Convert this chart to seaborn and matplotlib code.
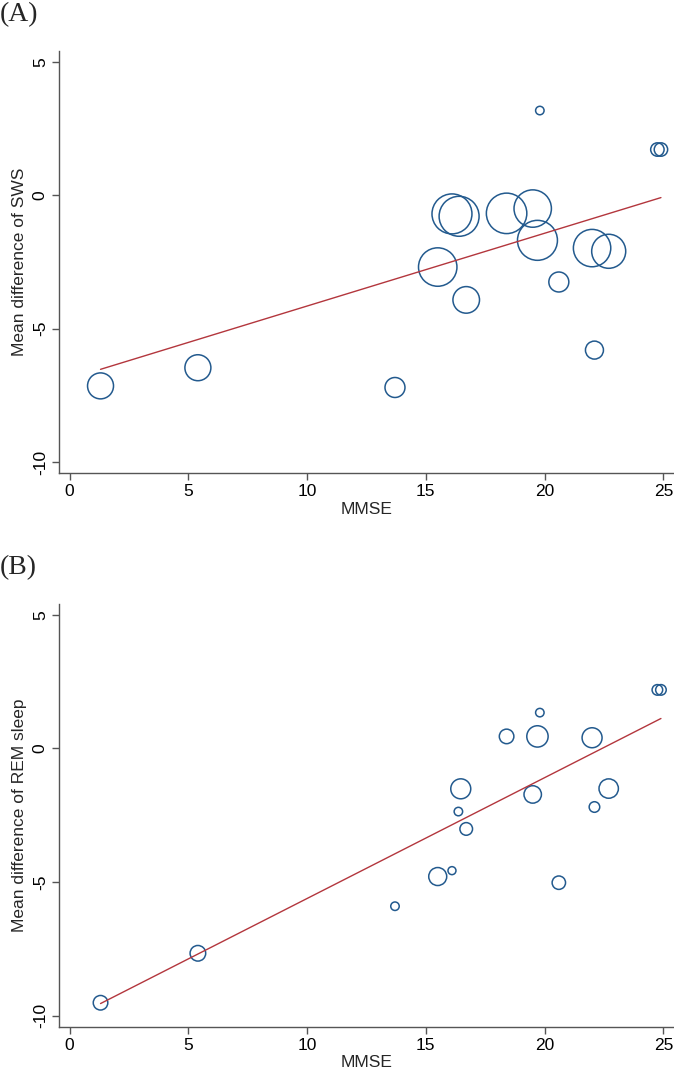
import numpy as np
import pandas as pd
import matplotlib
matplotlib.use("Agg")
import matplotlib.pyplot as plt
import seaborn as sns

# Panel A: SWS vs MMSE (bubble size ~ study weight)
mmse_a = [1.3, 5.4, 13.7, 15.5, 16.1, 16.4, 16.7, 18.4, 19.5, 19.7, 19.8,
          20.6, 22.0, 22.7, 22.1, 24.75, 24.9]
sws_diff = [-7.14, -6.46, -7.20, -2.69, -0.70, -0.79, -3.92, -0.68, -0.50,
            -1.69, 3.17, -3.25, -1.98, -2.10, -5.80, 1.71, 1.71]
weight_a = [16.9, 16.9, 10.0, 37.0, 40.0, 40.0, 17.7, 41.0, 35.0, 40.0, 1.8,
            10.0, 35.0, 29.0, 8.1, 4.5, 4.5]
fit_a_x = [1.3, 24.9]
fit_a_y = [-6.52, -0.09]

# Panel B: REM sleep vs MMSE
mmse_b = [1.3, 5.4, 13.7, 15.5, 16.1, 16.37, 16.47, 16.7, 18.4, 19.5, 19.7,
          19.8, 20.6, 22.0, 22.1, 22.7, 24.75, 24.9]
rem_diff = [-9.51, -7.66, -5.90, -4.79, -4.57, -2.36, -1.51, -3.01, 0.45,
            -1.72, 0.45, 1.34, -5.02, 0.40, -2.19, -1.50, 2.19, 2.19]
weight_b = [5.3, 6.1, 1.8, 8.1, 1.6, 1.8, 10.0, 4.0, 5.3, 7.6, 11.4, 1.8,
            4.5, 10.0, 2.8, 9.4, 2.8, 2.8]
fit_b_x = [1.3, 24.9]
fit_b_y = [-9.54, 1.12]

x_ticks = [0, 5, 10, 15, 20, 25]
y_ticks = [-10, -5, 0, 5]

NAVY = "#235a8e"
MAROON = "#b3363d"
AXIS_GREY = "#555555"

sns.set_theme(style="ticks")
plt.rcParams["font.family"] = ["Liberation Sans", "DejaVu Sans"]

fig = plt.figure(figsize=(6.74, 10.71), dpi=100)
ax_a = fig.add_axes([0.0875, 0.5584, 0.9125, 0.394])
ax_b = fig.add_axes([0.0875, 0.0415, 0.9125, 0.3945])


def bubble_panel(ax, x, y, w, fit_x, fit_y, ylabel):
    df = pd.DataFrame({"MMSE": x, "md": y, "w": w})
    sns.lineplot(x=fit_x, y=fit_y, ax=ax, color=MAROON, linewidth=1.0)
    sns.scatterplot(data=df, x="MMSE", y="md", ax=ax,
                    s=np.array(w) * 20.7, color=NAVY,
                    facecolor="none", edgecolor=NAVY, linewidth=1.1)

    ax.set_xlim(-0.45, 25.45)
    ax.set_ylim(-10.4, 5.4)
    ax.set_xticks(x_ticks)
    ax.set_yticks(y_ticks)
    ax.set_xticklabels([str(t) for t in x_ticks], fontsize=12.5)
    ax.set_yticklabels([str(t) for t in y_ticks], fontsize=12.5,
                       rotation=90, va="center")
    ax.set_xlabel("MMSE", fontsize=12.5, labelpad=2)
    ax.set_ylabel(ylabel, fontsize=12.5, labelpad=4)

    sns.despine(ax=ax)
    for side in ["left", "bottom"]:
        ax.spines[side].set_color(AXIS_GREY)
        ax.spines[side].set_linewidth(1.0)
    ax.tick_params(axis="both", direction="out", length=5, width=1.0,
                   color=AXIS_GREY, labelcolor="black", pad=3)


bubble_panel(ax_a, mmse_a, sws_diff, weight_a, fit_a_x, fit_a_y,
             "Mean difference of SWS")
bubble_panel(ax_b, mmse_b, rem_diff, weight_b, fit_b_x, fit_b_y,
             "Mean difference of REM sleep")

fig.text(0.0, 1 - 15 / 1071, "(A)", fontsize=20, va="center", ha="left",
         family=["Liberation Serif", "DejaVu Serif"])
fig.text(0.0, 1 - 568 / 1071, "(B)", fontsize=20, va="center", ha="left",
         family=["Liberation Serif", "DejaVu Serif"])

fig.savefig("out.png", dpi=100)
